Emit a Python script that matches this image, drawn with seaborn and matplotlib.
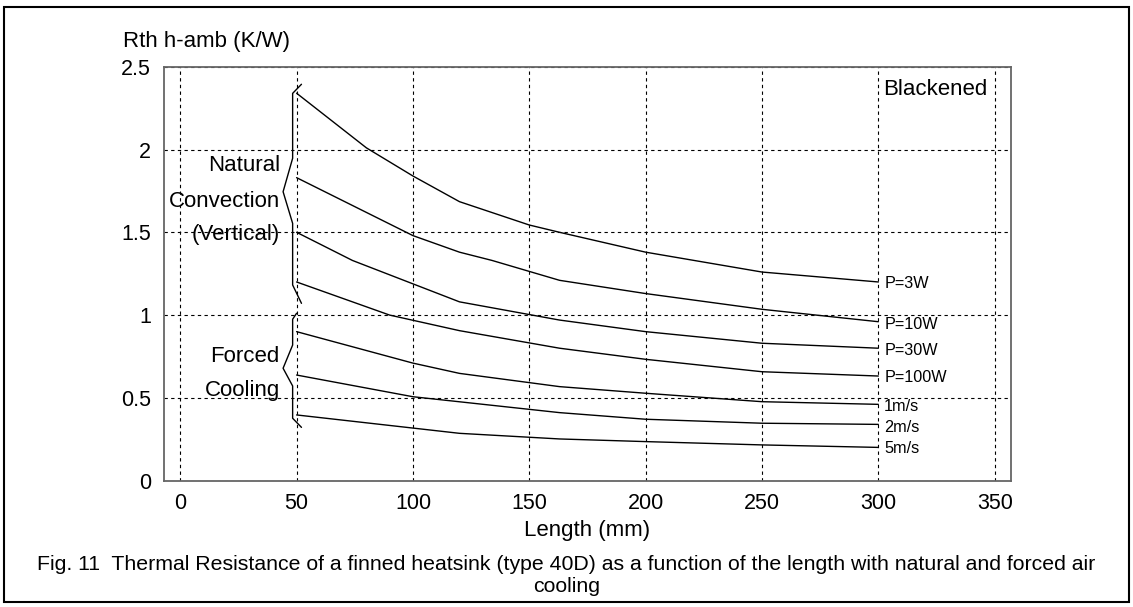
import numpy as np
import pandas as pd
import matplotlib
matplotlib.use("Agg")
import matplotlib.pyplot as plt
from matplotlib.patches import Rectangle
import seaborn as sns

# Curve data: length (mm) vs Rth h-amb (K/W)
series_names = ["P=3W", "P=10W", "P=30W", "P=100W", "1m/s", "2m/s", "5m/s"]
length_3w = [50, 80, 100, 120, 150, 163, 200, 250, 300]
rth_3w = [2.34, 2.01, 1.84, 1.685, 1.544, 1.50, 1.38, 1.26, 1.20]
length_10w = [50, 100, 120, 134, 163, 200, 250, 300]
rth_10w = [1.83, 1.48, 1.38, 1.33, 1.21, 1.13, 1.035, 0.96]
length_30w = [50, 74, 120, 163, 200, 250, 300]
rth_30w = [1.50, 1.33, 1.08, 0.97, 0.90, 0.83, 0.80]
length_100w = [50, 90, 120, 163, 200, 250, 300]
rth_100w = [1.20, 1.00, 0.906, 0.80, 0.733, 0.658, 0.632]
length_1ms = [50, 100, 120, 163, 200, 250, 300]
rth_1ms = [0.90, 0.71, 0.648, 0.568, 0.528, 0.477, 0.461]
length_2ms = [50, 100, 163, 200, 250, 300]
rth_2ms = [0.638, 0.507, 0.411, 0.371, 0.347, 0.340]
length_5ms = [50, 120, 163, 200, 250, 300]
rth_5ms = [0.397, 0.286, 0.252, 0.236, 0.216, 0.201]

x_ticks = [0, 50, 100, 150, 200, 250, 300, 350]
y_ticks = [0, 0.5, 1, 1.5, 2, 2.5]
y_tick_labels = ["0", "0.5", "1", "1.5", "2", "2.5"]

lengths = [length_3w, length_10w, length_30w, length_100w, length_1ms, length_2ms, length_5ms]
rths = [rth_3w, rth_10w, rth_30w, rth_100w, rth_1ms, rth_2ms, rth_5ms]

df = pd.concat(
    [pd.DataFrame({"length": l, "rth": r, "series": s}) for s, l, r in zip(series_names, lengths, rths)],
    ignore_index=True,
)

# curve-end label heights
label_y = [1.19, 0.946, 0.785, 0.624, 0.447, 0.32, 0.196]


def main():
    sns.set_theme(style="white")
    plt.rcParams["font.family"] = ["Liberation Sans", "DejaVu Sans"]
    plt.rcParams["text.color"] = "black"

    fig = plt.figure(figsize=(11.33, 6.07), dpi=100)
    ax = fig.add_axes([0.1445, 0.2081, 0.7478, 0.682])

    sns.lineplot(data=df, x="length", y="rth", hue="series", palette=["black"] * 7,
                 legend=False, linewidth=1.0, sort=False, estimator=None, ax=ax)

    ax.set_xlim(-7.1, 357)
    ax.set_ylim(0, 2.5)
    ax.set_xticks(x_ticks)
    ax.set_yticks(y_ticks)
    ax.set_yticklabels(y_tick_labels)
    ax.tick_params(axis="both", length=0, labelsize=15.5, pad=9, colors="black")
    ax.grid(True, color="black", linestyle=(0, (3, 3)), linewidth=0.8)
    for sp in ax.spines.values():
        sp.set_color("#666666")
        sp.set_linewidth(1.3)
    ax.set_xlabel("Length (mm)", fontsize=16, color="black", labelpad=4)
    ax.set_ylabel("")

    fig.text(123 / 1133, 1 - 42 / 607, "Rth h-amb (K/W)", fontsize=16, ha="left", va="center")

    # end labels
    for name, y in zip(series_names, label_y):
        ax.text(302.5, y, name, fontsize=11.7, ha="left", va="center")
    ax.text(302, 2.36, "Blackened", fontsize=16, ha="left", va="center")

    # braces
    nat_x = [52.1, 48.3, 48.3, 44.2, 48.3, 48.3, 52.1]
    nat_y = [2.394, 2.339, 1.947, 1.745, 1.554, 1.182, 1.071]
    frc_x = [50.0, 48.3, 48.3, 44.2, 48.3, 48.3, 52.1]
    frc_y = [1.011, 0.975, 0.819, 0.679, 0.572, 0.377, 0.322]
    ax.plot(nat_x, nat_y, color="black", linewidth=1.0, clip_on=False)
    ax.plot(frc_x, frc_y, color="black", linewidth=1.0, clip_on=False)

    for txt, y in zip(["Natural", "Convection", "(Vertical)"], [1.906, 1.685, 1.484]):
        ax.text(42.8, y, txt, fontsize=16, ha="right", va="center")
    for txt, y in zip(["Forced", "Cooling"], [0.749, 0.542]):
        ax.text(42.8, y, txt, fontsize=16, ha="right", va="center")

    fig.text(0.5, 1 - 565 / 607,
             "Fig. 11  Thermal Resistance of a finned heatsink (type 40D) as a function of the length with natural and forced air",
             fontsize=15.3, ha="center", va="center")
    fig.text(0.5, 1 - 587 / 607, "cooling", fontsize=15.3, ha="center", va="center")

    fig.patches.append(Rectangle((4 / 1133, 1 - 602 / 607), 1125 / 1133, 595 / 607,
                                 transform=fig.transFigure, fill=False,
                                 edgecolor="black", linewidth=1.5))

    fig.savefig("out.png", dpi=100)
    plt.close(fig)


if __name__ == "__main__":
    main()
